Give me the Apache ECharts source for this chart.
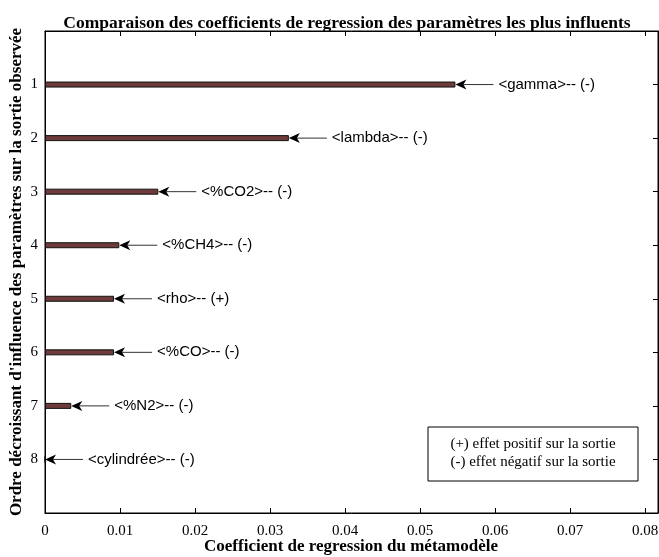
<!DOCTYPE html>
<html>
<head>
<meta charset="utf-8">
<script src="https://cdn.jsdelivr.net/npm/echarts@6/dist/echarts.min.js"></script>
<style>
  html, body { margin: 0; padding: 0; background: #fff; }
  #chart { width: 659px; height: 557px; }
</style>
</head>
<body>
<div id="chart"></div>
<script>
// rang de chaque parametre (axe vertical, 0 et 9 = bords)
var ranks = ["0", "1", "2", "3", "4", "5", "6", "7", "8", "9"];
var coefficients = [0.0547, 0.0325, 0.0151, 0.0099, 0.0092, 0.0092, 0.0035, 0.0];
var paramNames = ["gamma", "lambda", "%CO2", "%CH4", "rho", "%CO", "%N2", "cylindrée"];
var signs = ["-", "-", "-", "-", "+", "-", "-", "-"];
var xTicks = [0, 0.01, 0.02, 0.03, 0.04, 0.05, 0.06, 0.07, 0.08];

var barData = [null].concat(coefficients).concat([null]);
var arrowData = coefficients.map(function (v, i) {
  return [v, i + 1, "<" + paramNames[i] + ">-- (" + signs[i] + ")"];
});

var chart = echarts.init(document.getElementById("chart"));

var serif = "Liberation Serif, Times New Roman, serif";
var sans = "Liberation Sans, Arial, sans-serif";

var option = {
  animation: false,
  title: {
    text: "Comparaison des coefficients de regression des paramètres les plus influents",
    left: 342,
    textAlign: "center",
    top: 9,
    textStyle: { fontFamily: serif, fontSize: 17.5, fontWeight: "bold", color: "#000" }
  },
  grid: {
    left: 45, top: 31, right: 1, bottom: 44,
    containLabel: false, outerBoundsMode: "none",
    show: true, borderColor: "#000", borderWidth: 1
  },
  xAxis: [
    {
      type: "value",
      min: 0,
      max: 0.0817,
      interval: 0.01,
      axisLine: { show: true, onZero: false, lineStyle: { color: "#000", width: 1 } },
      axisTick: { show: true, inside: true, length: 5, lineStyle: { color: "#000" } },
      axisLabel: {
        showMaxLabel: false,
        margin: 11,
        fontFamily: serif,
        fontSize: 15,
        color: "#000",
        formatter: function (v) {
          return xTicks.indexOf(Math.round(v * 100) / 100) >= 0 ? String(Math.round(v * 100) / 100) : "";
        }
      },
      splitLine: { show: false }
    },
    {
      type: "value",
      position: "top",
      min: 0,
      max: 0.0817,
      interval: 0.01,
      axisLine: { show: true, onZero: false, lineStyle: { color: "#000" } },
      axisTick: { show: true, inside: true, length: 5, lineStyle: { color: "#000" } },
      axisLabel: { show: false },
      splitLine: { show: false }
    }
  ],
  yAxis: [
    {
      type: "category",
      data: ranks,
      inverse: true,
      boundaryGap: false,
      axisLine: { show: true, onZero: false, lineStyle: { color: "#000", width: 1 } },
      axisTick: { show: false },
      axisLabel: {
        margin: 7,
        fontFamily: serif,
        fontSize: 15,
        color: "#000",
        formatter: function (v) { return (v === "0" || v === "9") ? "" : v; }
      }
    },
    {
      type: "category",
      data: ranks,
      inverse: true,
      boundaryGap: false,
      position: "right",
      axisLine: { show: true, onZero: false, lineStyle: { color: "#000" } },
      axisTick: { show: true, inside: true, length: 5, lineStyle: { color: "#000" } },
      axisLabel: { show: false }
    }
  ],
  series: [
    {
      type: "bar",
      data: barData,
      barWidth: 6,
      itemStyle: { color: "#6e3b3b", borderColor: "#111", borderWidth: 1 },
      z: 2
    },
    {
      type: "custom",
      data: arrowData,
      encode: { x: 0, y: 1 },
      z: 3,
      renderItem: function (params, api) {
        var p = api.coord([api.value(0), api.value(1)]);
        var x = p[0], y = p[1];
        var label = arrowData[params.dataIndex][2];
        return {
          type: "group",
          children: [
            {
              type: "line",
              shape: { x1: x + 8, y1: y, x2: x + 38, y2: y },
              style: { stroke: "#333", lineWidth: 1 }
            },
            {
              type: "polygon",
              shape: { points: [[x, y], [x + 11, y - 5], [x + 8, y], [x + 11, y + 5]] },
              style: { fill: "#000" }
            },
            {
              type: "text",
              x: x + 43,
              y: y,
              style: {
                text: label,
                fontFamily: sans,
                fontSize: 15,
                fill: "#000",
                verticalAlign: "middle",
                align: "left"
              }
            }
          ]
        };
      }
    }
  ],
  graphic: [
    {
      // titre de l'axe horizontal
      type: "text",
      x: 351,
      y: 547,
      style: {
        text: "Coefficient de regression du métamodèle",
        fontFamily: serif, fontSize: 17, fontWeight: "bold", fill: "#000",
        align: "center", verticalAlign: "middle"
      }
    },
    {
      // titre de l'axe vertical
      type: "text",
      x: 17,
      y: 272,
      rotation: Math.PI / 2,
      style: {
        text: "Ordre décroissant d'influence des paramètres sur la sortie observée",
        fontFamily: serif, fontSize: 17, fontWeight: "bold", fill: "#000",
        align: "center", verticalAlign: "middle"
      }
    },
    {
      type: "rect",
      shape: { x: 428, y: 427, width: 210, height: 54 },
      style: { fill: "#fff", stroke: "#000", lineWidth: 1 },
      z: 10
    },
    {
      type: "text",
      x: 533,
      y: 444,
      style: {
        text: "(+) effet positif sur la sortie",
        fontFamily: serif, fontSize: 15, fill: "#000",
        align: "center", verticalAlign: "middle"
      },
      z: 11
    },
    {
      type: "text",
      x: 533,
      y: 462,
      style: {
        text: "(-) effet négatif sur la sortie",
        fontFamily: serif, fontSize: 15, fill: "#000",
        align: "center", verticalAlign: "middle"
      },
      z: 11
    }
  ]
};

chart.setOption(option);
</script>
</body>
</html>
